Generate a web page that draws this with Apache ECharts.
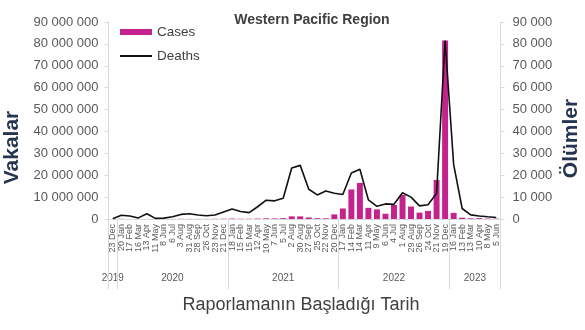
<!DOCTYPE html>
<html>
<head>
<meta charset="utf-8">
<script src="https://cdn.jsdelivr.net/npm/echarts@6/dist/echarts.min.js"></script>
<style>
  html, body { margin: 0; padding: 0; background: #ffffff; }
  #chart { width: 585px; height: 330px; }
</style>
</head>
<body>
<div id="chart"></div>
<script>
// Start date of each 28-day reporting period
const periods = [
  '23 Dec',
  '20 Jan', '17 Feb', '16 Mar', '13 Apr', '11 May', '8 Jun', '6 Jul', '3 Aug', '31 Aug', '28 Sep', '26 Oct', '23 Nov', '21 Dec',
  '18 Jan', '15 Feb', '15 Mar', '12 Apr', '10 May', '7 Jun', '5 Jul', '2 Aug', '30 Aug', '27 Sep', '25 Oct', '22 Nov', '20 Dec',
  '17 Jan', '14 Feb', '14 Mar', '11 Apr', '9 May', '6 Jun', '4 Jul', '1 Aug', '29 Aug', '26 Sep', '24 Oct', '21 Nov', '19 Dec',
  '16 Jan', '13 Feb', '13 Mar', '10 Apr', '8 May', '5 Jun'
];

// Year groups under the period labels
const years = ['2019', '2020', '2021', '2022', '2023'];
const yearFirstPeriod = [0, 1, 14, 27, 40];

// Reported cases per period
const cases = [
  10000,
  70000, 20000, 30000, 20000, 10000, 20000, 50000, 80000, 60000, 50000, 50000, 90000, 130000,
  200000, 120000, 120000, 200000, 300000, 250000, 400000, 1200000, 1200000, 700000, 350000, 300000, 2100000,
  4800000, 13500000, 16500000, 5100000, 4400000, 2400000, 6400000, 11000000, 5700000, 2900000, 3700000, 17800000, 81500000,
  2800000, 600000, 300000, 400000, 200000, 150000
];

// Reported deaths per period
const deaths = [
  100,
  1700, 1400, 500, 2400, 300, 400, 1000, 2100, 2400, 1800, 1500, 1800, 3200,
  4600, 3400, 2900, 5600, 8600, 8300, 9500, 23300, 24500, 13600, 11000, 12800, 11800,
  11200, 21000, 22700, 8700, 5800, 6900, 6700, 12000, 10000, 6000, 6500, 11800, 81500,
  25000, 4800, 1900, 1400, 1000, 700
];

// Axis ranges
const casesMax = 90000000, casesStep = 10000000;
const deathsMax = 90000, deathsStep = 10000;

const FONT = 'Liberation Sans';
const AXIS_GREY = '#d9d9d9';
const LABEL_GREY = '#595959';
const TEXT_DARK = '#404040';

const spaced = v => String(v).replace(/\B(?=(\d{3})+(?!\d))/g, ' ');

const chart = echarts.init(document.getElementById('chart'), null, { renderer: 'canvas' });

const valueAxis = (max, step, extra) => Object.assign({
  type: 'value',
  min: 0,
  max: max,
  interval: step,
  axisLine: { show: true, lineStyle: { color: AXIS_GREY, width: 1 } },
  axisTick: { show: true, length: 4, lineStyle: { color: AXIS_GREY } },
  splitLine: { show: false },
  axisLabel: { formatter: spaced, color: LABEL_GREY, fontSize: 13, fontFamily: FONT }
}, extra);

chart.setOption({
  animation: false,
  textStyle: { fontFamily: FONT },
  grid: { left: 108.5, right: 84.5, top: 22, bottom: 111 },
  legend: [
    {
      data: ['Cases'], left: 120, top: 25, padding: 0, icon: 'rect',
      itemWidth: 32, itemHeight: 6, selectedMode: false,
      textStyle: { fontSize: 13.5, color: TEXT_DARK, fontFamily: FONT }
    },
    {
      data: ['Deaths'], left: 120, top: 49, padding: 0, icon: 'rect',
      itemWidth: 32, itemHeight: 2, selectedMode: false,
      textStyle: { fontSize: 13.5, color: TEXT_DARK, fontFamily: FONT }
    }
  ],
  xAxis: {
    type: 'category',
    data: periods,
    boundaryGap: true,
    axisLine: { show: true, lineStyle: { color: AXIS_GREY, width: 1 } },
    axisTick: {
      show: true,
      interval: idx => yearFirstPeriod.indexOf(idx) !== -1,
      length: 70,
      lineStyle: { color: AXIS_GREY }
    },
    axisLabel: {
      interval: 0, rotate: 90, margin: 5,
      fontSize: 9, color: LABEL_GREY, fontFamily: FONT
    }
  },
  yAxis: [
    valueAxis(casesMax, casesStep, { position: 'left', axisLabel: { formatter: spaced, color: LABEL_GREY, fontSize: 13, fontFamily: FONT, margin: 10 } }),
    valueAxis(deathsMax, deathsStep, { position: 'right', axisLabel: { formatter: spaced, color: LABEL_GREY, fontSize: 13, fontFamily: FONT, margin: 12 } })
  ],
  series: [
    {
      name: 'Cases', type: 'bar', yAxisIndex: 0, data: cases,
      barCategoryGap: '30%',
      itemStyle: { color: '#C4238E' }
    },
    {
      name: 'Deaths', type: 'line', yAxisIndex: 1, data: deaths,
      symbol: 'none',
      itemStyle: { color: '#111111' },
      lineStyle: { color: '#111111', width: 1.6 }
    }
  ]
});

// Titles and year captions placed from the axis scales
const textEl = (text, x, y, size, weight, color, rotation) => ({
  type: 'text', x: x, y: y, rotation: rotation || 0, silent: true,
  style: {
    text: text, fill: color, fontSize: size, fontWeight: weight, fontFamily: FONT,
    align: 'center', verticalAlign: 'middle', textAlign: 'center', textVerticalAlign: 'middle'
  }
});

const baseY = chart.convertToPixel({ yAxisIndex: 0 }, 0);
const yearLabels = years.map((yr, k) => {
  const first = yearFirstPeriod[k];
  const last = k + 1 < yearFirstPeriod.length ? yearFirstPeriod[k + 1] - 1 : periods.length - 1;
  const x0 = chart.convertToPixel({ xAxisIndex: 0 }, first);
  const x1 = chart.convertToPixel({ xAxisIndex: 0 }, last);
  return textEl(yr, (x0 + x1) / 2, baseY + 59, 10, 'normal', LABEL_GREY);
});

chart.setOption({
  graphic: [
    textEl('Western Pacific Region', 312, 20, 14, 'bold', TEXT_DARK),
    textEl('Vakalar', 12.5, 147.5, 21, 'bold', '#253550', Math.PI / 2),
    textEl('Ölümler', 571.5, 138.5, 21, 'bold', '#253550', Math.PI / 2),
    textEl('Raporlamanın Başladığı Tarih', 301, 305, 18, 'normal', TEXT_DARK)
  ].concat(yearLabels)
});
</script>
</body>
</html>
